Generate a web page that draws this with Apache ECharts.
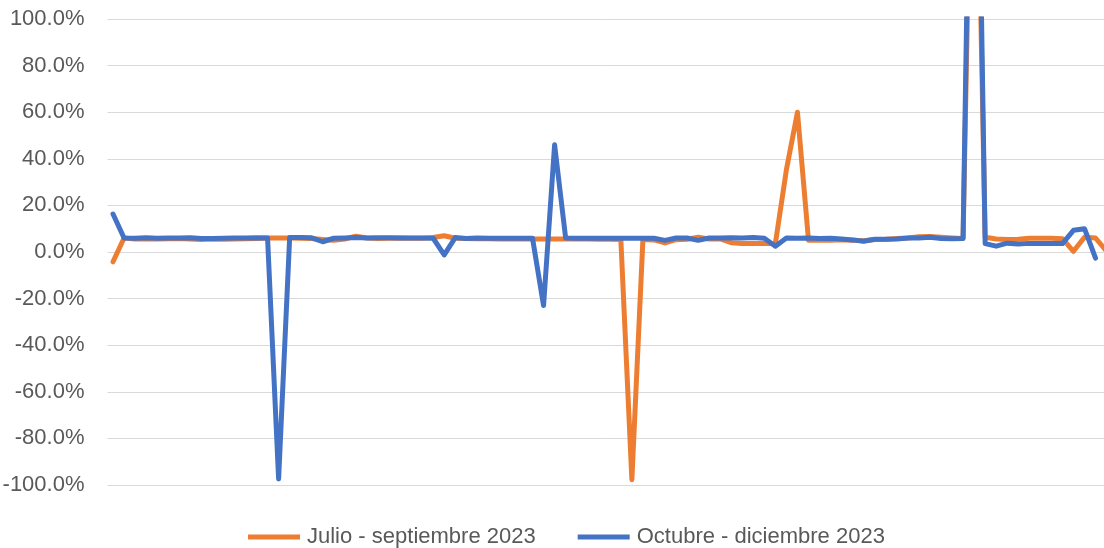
<!DOCTYPE html>
<html>
<head>
<meta charset="utf-8">
<script src="https://cdn.jsdelivr.net/npm/echarts@6/dist/echarts.min.js"></script>
<style>
html,body{margin:0;padding:0;background:#fff;}
#chart{width:1104px;height:548px;}
</style>
</head>
<body>
<div id="chart"></div>
<script>
const seriesNames = ['Julio - septiembre 2023', 'Octubre - diciembre 2023'];

const julioSept = [
  -4.2, 6.0, 5.6, 5.7, 5.6, 5.7, 5.8, 5.6, 5.4, 5.6,
  5.5, 5.6, 5.7, 5.8, 6.0, 6.0, 6.0, 5.9, 5.8, 5.4,
  5.0, 5.6, 6.8, 6.0, 5.8, 5.9, 6.0, 5.9, 5.9, 6.2,
  7.0, 5.9, 5.8, 5.7, 5.7, 5.6, 5.6, 5.6, 5.6, 5.6,
  5.6, 5.6, 5.6, 5.6, 5.5, 5.5, 5.4, -97.7, 5.4, 5.2,
  3.9, 5.3, 5.5, 6.3, 5.6, 5.6, 4.0, 3.6, 3.6, 3.6,
  3.7, 35.4, 60.0, 5.0, 5.2, 5.0, 5.3, 5.0, 4.8, 5.4,
  5.5, 5.8, 6.0, 6.5, 6.7, 6.3, 6.0, 5.8, 250.0, 6.3,
  5.6, 5.4, 5.5, 5.9, 5.9, 5.9, 5.7, 0.3, 6.3, 6.0,
  0.3
];

const octDic = [
  16.3, 6.0, 5.9, 6.1, 5.9, 6.0, 6.0, 6.1, 5.8, 5.8,
  5.9, 6.0, 6.0, 6.1, 6.0, -97.4, 6.2, 6.2, 6.1, 4.4,
  5.9, 6.0, 6.2, 6.0, 6.1, 6.1, 6.0, 6.0, 6.0, 5.9,
  -1.2, 6.2, 5.8, 6.0, 5.9, 5.9, 5.9, 5.9, 5.9, -23.0,
  46.0, 6.0, 5.9, 5.9, 5.9, 5.9, 5.9, 5.9, 5.9, 5.9,
  5.0, 6.0, 6.0, 5.0, 6.0, 6.0, 6.1, 6.0, 6.2, 5.9,
  2.5, 6.0, 5.9, 6.0, 5.8, 5.9, 5.6, 5.2, 4.6, 5.5,
  5.5, 5.6, 6.0, 6.0, 6.3, 5.8, 5.7, 5.8, 300.0, 3.6,
  2.5, 3.8, 3.4, 3.7, 3.7, 3.7, 3.6, 9.3, 10.0, -2.6,
  null
];

const categories = julioSept.map((_, i) => String(i + 1));

const yTicks = [-100, -80, -60, -40, -20, 0, 20, 40, 60, 80, 100];

const chart = echarts.init(document.getElementById('chart'), null, {renderer: 'canvas'});
const font = '"Liberation Sans", Arial, sans-serif';

chart.setOption({
  animation: false,
  backgroundColor: '#ffffff',
  grid: {left: 107.5, width: 1004.6, top: 19, bottom: 63, containLabel: false, outerBoundsMode: 'none'},
  legend: {
    data: seriesNames,
    left: 248,
    top: 526,
    padding: 0,
    itemWidth: 52,
    itemHeight: 5,
    itemGap: 42,
    icon: 'rect',
    textStyle: {fontFamily: font, fontSize: 22, color: '#595959', padding: [0, 0, 0, 2]}
  },
  xAxis: {
    type: 'category',
    data: categories,
    boundaryGap: true,
    axisLine: {show: false},
    axisTick: {show: false},
    axisLabel: {show: false},
    splitLine: {show: false}
  },
  yAxis: {
    type: 'value',
    min: yTicks[0],
    max: yTicks[yTicks.length - 1],
    interval: 20,
    axisLine: {show: false},
    axisTick: {show: false},
    axisLabel: {
      margin: 23,
      fontFamily: font,
      fontSize: 22,
      color: '#595959',
      formatter: v => v.toFixed(1) + '%'
    },
    splitLine: {lineStyle: {color: '#d9d9d9', width: 1}}
  },
  series: [
    {
      name: seriesNames[0],
      type: 'line',
      data: julioSept,
      showSymbol: false,
      symbol: 'none',
      clip: true,
      color: '#ED7D31',
      lineStyle: {color: '#ED7D31', width: 5, cap: 'round', join: 'round'}
    },
    {
      name: seriesNames[1],
      type: 'line',
      data: octDic,
      showSymbol: false,
      symbol: 'none',
      clip: true,
      color: '#4472C4',
      lineStyle: {color: '#4472C4', width: 5, cap: 'round', join: 'round'}
    }
  ]
});
</script>
</body>
</html>
